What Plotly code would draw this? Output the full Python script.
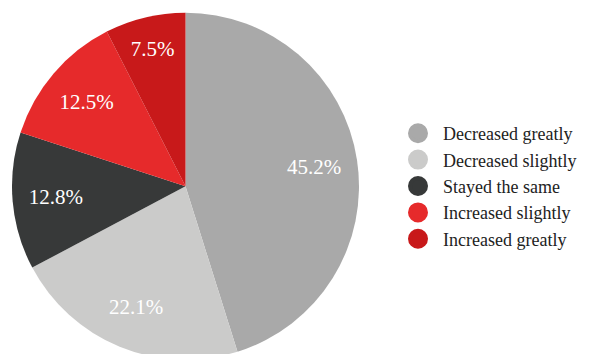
import plotly.graph_objects as go

# Survey responses: share of respondents in each category
categories = ["Decreased greatly", "Decreased slightly", "Stayed the same",
              "Increased slightly", "Increased greatly"]
shares = [45.2, 22.1, 12.8, 12.5, 7.5]
colors = ["#A9A9A9", "#CBCBCA", "#373939", "#E62A2B", "#C8191A"]

W, H = 590, 362
FONT = "Liberation Serif, Times New Roman, serif"
label_font = dict(family=FONT, size=21, color="white")
pie_domain = dict(x=[12 / W, 359 / W], y=[(H - 360) / H, (H - 12.5) / H])

fig = go.Figure()

# Filled slices
fig.add_trace(go.Pie(
    labels=categories,
    values=shares,
    sort=False,
    direction="clockwise",
    rotation=0,
    marker=dict(colors=colors, line=dict(width=0)),
    textinfo="none",
    showlegend=False,
    domain=pie_domain,
))

# Transparent ring on top that carries the percentage labels at a common radius
fig.add_trace(go.Pie(
    labels=categories,
    values=shares,
    sort=False,
    direction="clockwise",
    rotation=0,
    hole=0.5,
    marker=dict(colors=["rgba(0,0,0,0)"] * len(shares), line=dict(width=0)),
    texttemplate="%{value:.1f}%",
    textposition="inside",
    insidetextorientation="horizontal",
    textfont=label_font,
    insidetextfont=label_font,
    hoverinfo="skip",
    showlegend=False,
    domain=pie_domain,
))

# Legend entries drawn as round markers
for name, col in zip(categories, colors):
    fig.add_trace(go.Scatter(
        x=[None], y=[None], mode="markers", name=name,
        marker=dict(symbol="circle", size=16, color=col,
                    line=dict(color=col, width=4)),
        hoverinfo="skip",
    ))

fig.update_layout(
    width=W, height=H,
    margin=dict(l=0, r=0, t=0, b=0),
    font=dict(family=FONT),
    paper_bgcolor="white",
    plot_bgcolor="white",
    xaxis=dict(visible=False),
    yaxis=dict(visible=False),
    legend=dict(
        x=393 / W, xanchor="left",
        y=1 - 186 / H, yanchor="middle",
        font=dict(family=FONT, size=18, color="#222222"),
        bgcolor="rgba(0,0,0,0)",
        itemwidth=40,
    ),
)

fig.write_html("out.html", post_script="document.body.style.overflow='hidden';"
               "document.documentElement.style.overflow='hidden';")
